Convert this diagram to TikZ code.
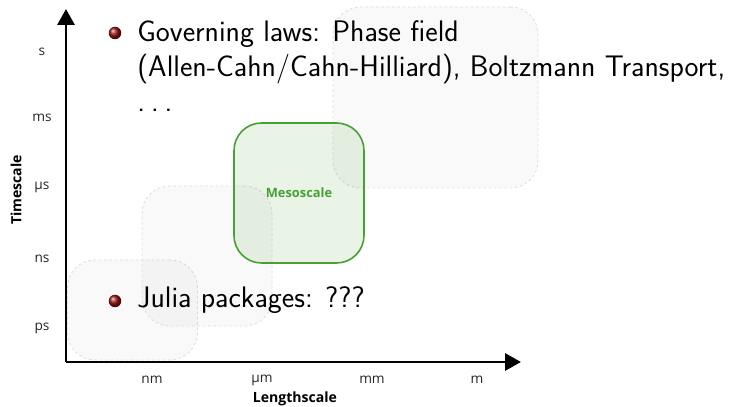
\documentclass[tikz,border=0pt]{standalone}
\usepackage{fontspec}
\newfontfamily\labelfont{Open Sans}
\usetikzlibrary{arrows.meta}
\definecolor{mesoGreen}{RGB}{70,160,50}
\definecolor{ballRed}{RGB}{150,20,20}
\tikzset{%
  >={Triangle[width=3.4mm,length=3.2mm]},
  % Specifications for style of nodes:
        scaleBox/.style = {rectangle, rounded corners=0.55cm, draw=black!13,
                           dash pattern=on 1.5pt off 1.5pt, line width=0.5pt,
                           fill=black, fill opacity=0.024},
         mesoBox/.style = {scaleBox, draw=mesoGreen, solid, line width=0.9pt,
                           fill=mesoGreen, fill opacity=0.12, text opacity=1,
                           text=mesoGreen, font=\labelfont\bfseries\fontsize{7.3}{8}\selectfont},
       tickLabel/.style = {text=black!85, font=\labelfont\fontsize{7.8}{9}\selectfont},
       axisTitle/.style = {font=\labelfont\bfseries\fontsize{8}{10}\selectfont},
        itemBall/.style = {circle, inner sep=0pt, minimum size=2.5mm,
                           shading=ball, ball color=ballRed},
        itemText/.style = {font=\sffamily\fontsize{16.9}{20}\selectfont,
                           align=left, anchor=base west, inner sep=0pt},
}
\begin{document}
\begin{tikzpicture}
  \useasboundingbox (0,0) rectangle (15,8.14);

  % axes
  \coordinate (origin)     at (1.32,0.90);
  \coordinate (timeTop)    at (1.32,7.96);
  \coordinate (lengthEnd)  at (10.42,0.90);

  % boxes for the scales
  \node(atomBox)   [scaleBox, minimum width=2.6cm, minimum height=2.0cm] at (2.65,1.94) {};
  \node(molBox)    [scaleBox, minimum width=2.6cm, minimum height=2.8cm] at (4.14,3.02) {};
  \node(macroBox)  [scaleBox, minimum width=4.1cm, minimum height=3.62cm] at (8.71,6.19) {};
  \node(meso)      [mesoBox, minimum width=2.6cm, minimum height=2.8cm] at (5.98,4.28) {Mesoscale};

  \draw[->, line width=1.7pt]  (origin) -- (timeTop);
  \draw[->, line width=1.7pt]  (origin) -- (lengthEnd);

  % ticks on the time axis
  \node(tS)   [tickLabel] at (0.84,7.10) {s};
  \node(tMs)  [tickLabel] at (0.84,5.78) {ms};
  \node(tMus) [tickLabel] at (0.84,4.40) {µs};
  \node(tNs)  [tickLabel] at (0.84,2.96) {ns};
  \node(tPs)  [tickLabel] at (0.84,1.58) {ps};
  \node(timeTitle) [axisTitle, rotate=90] at (0.32,4.34) {Timescale};

  % ticks on the length axis
  \node(lNm)  [tickLabel] at (3.04,0.54) {nm};
  \node(lMum) [tickLabel] at (5.24,0.54) {µm};
  \node(lMm)  [tickLabel] at (7.44,0.54) {mm};
  \node(lM)   [tickLabel] at (9.54,0.54) {m};
  \node(lengthTitle) [axisTitle] at (5.90,0.16) {Lengthscale};

  % bullet items
  \node(lawsBall)  [itemBall] at (2.30,7.48) {};
  \node(laws)      [itemText] at (2.74,5.90) {Governing laws: Phase field\\
                                              (Allen-Cahn/Cahn-Hilliard), Boltzmann Transport,\\
                                              .\hspace{0.2em}.\hspace{0.2em}.};
  \node(juliaBall) [itemBall] at (2.30,2.12) {};
  \node(julia)     [itemText] at (2.74,1.99) {Julia packages: ???};
\end{tikzpicture}
\end{document}
